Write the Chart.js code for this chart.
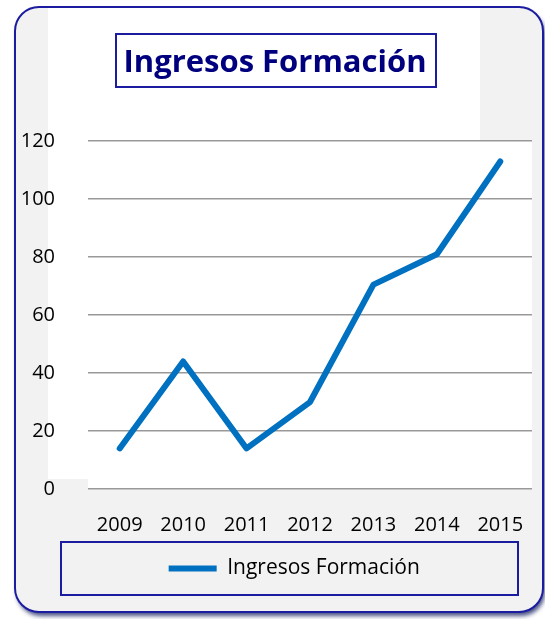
<!DOCTYPE html>
<html>
<head>
<meta charset="utf-8">
<script src="https://cdn.jsdelivr.net/npm/chart.js@4"></script>
<style>
  html, body { margin: 0; padding: 0; background: #ffffff; }
  #wrap { position: relative; width: 545px; height: 619px; }
  canvas { display: block; }
</style>
</head>
<body>
<div id="wrap"><canvas id="c" width="545" height="619"></canvas></div>
<script>
const chartTitle = 'Ingresos Formación';
const seriesName = 'Ingresos Formación';
const years = ['2009', '2010', '2011', '2012', '2013', '2014', '2015'];
const ingresos = [14, 44, 14, 30, 70.5, 81, 113];
const yTicks = [0, 20, 40, 60, 80, 100, 120];

const FONT = '"Open Sans", "Noto Sans", "DejaVu Sans", sans-serif';
const BORDER = '#1c1ca0';

function roundRect(ctx, x, y, w, h, r) {
  ctx.beginPath();
  ctx.moveTo(x + r, y);
  ctx.lineTo(x + w - r, y);
  ctx.arcTo(x + w, y, x + w, y + r, r);
  ctx.lineTo(x + w, y + h - r);
  ctx.arcTo(x + w, y + h, x + w - r, y + h, r);
  ctx.lineTo(x + r, y + h);
  ctx.arcTo(x, y + h, x, y + h - r, r);
  ctx.lineTo(x, y + r);
  ctx.arcTo(x, y, x + r, y, r);
  ctx.closePath();
}

const decor = {
  id: 'decor',
  afterLayout(chart) {
    if (chart.titleBlock) { chart.titleBlock.left = 0; chart.titleBlock.right = 550; }
    if (chart.legend) {
      const h = chart.legend.bottom - chart.legend.top;
      chart.legend.left = 58; chart.legend.right = 530.5;
      chart.legend.top = 548; chart.legend.bottom = 548 + h;
    }
  },
  beforeDraw(chart) {
    const ctx = chart.ctx;
    const a = chart.chartArea;
    ctx.save();
    ctx.shadowColor = 'rgba(30,40,100,0.8)';
    ctx.shadowBlur = 4;
    ctx.shadowOffsetX = 2;
    ctx.shadowOffsetY = 4;
    roundRect(ctx, 15, 7, 528, 605, 24);
    ctx.fillStyle = '#f2f2f2';
    ctx.fill();
    ctx.shadowColor = 'transparent';
    ctx.fillStyle = '#ffffff';
    ctx.beginPath();
    ctx.moveTo(48, 8);
    ctx.lineTo(480, 8);
    ctx.lineTo(480, a.top);
    ctx.lineTo(a.right, a.top);
    ctx.lineTo(a.right, a.bottom);
    ctx.lineTo(a.left, a.bottom);
    ctx.lineTo(a.left, a.bottom - 10);
    ctx.lineTo(48, a.bottom - 10);
    ctx.closePath();
    ctx.fill();
    roundRect(ctx, 15, 7, 528, 605, 24);
    ctx.lineWidth = 2;
    ctx.strokeStyle = BORDER;
    ctx.stroke();
    ctx.restore();
  },
  afterDraw(chart) {
    const ctx = chart.ctx;
    ctx.save();
    ctx.lineWidth = 2;
    ctx.strokeStyle = BORDER;
    ctx.strokeRect(116, 34, 320, 53);
    ctx.strokeRect(61, 542, 457, 53);
    ctx.restore();
  }
};

new Chart(document.getElementById('c'), {
  type: 'line',
  data: {
    labels: years,
    datasets: [{
      label: seriesName,
      data: ingresos,
      borderColor: '#0070c0',
      backgroundColor: '#0070c0',
      borderWidth: 6,
      borderCapStyle: 'round',
      borderJoinStyle: 'round',
      tension: 0,
      pointRadius: 0,
      pointHoverRadius: 0,
      fill: false
    }]
  },
  options: {
    responsive: false,
    animation: false,
    devicePixelRatio: 1,
    layout: { padding: { left: 0, right: 13, top: 0, bottom: 29 } },
    plugins: {
      tooltip: { enabled: false },
      title: {
        display: true,
        text: chartTitle,
        color: '#00007f',
        font: { family: FONT, size: 31, weight: 'bold' },
        padding: { top: 45, bottom: 59 }
      },
      legend: {
        display: true,
        position: 'bottom',
        labels: {
          color: '#000000',
          font: { family: FONT, size: 21 },
          usePointStyle: true,
          pointStyle: 'line',
          pointStyleWidth: 48,
          padding: 10
        }
      }
    },
    scales: {
      x: {
        offset: true,
        grid: { display: false },
        border: { display: false },
        ticks: { color: '#000000', font: { family: FONT, size: 20 }, padding: 16, maxRotation: 0, autoSkip: false },
        afterFit(scale) { scale.height = 60; scale.paddingLeft = 0; scale.paddingRight = 0; }
      },
      y: {
        min: 0,
        max: 120,
        afterBuildTicks(scale) { scale.ticks = yTicks.map(v => ({ value: v })); },
        grid: { color: '#999999', lineWidth: 1.5, drawTicks: false },
        border: { display: false },
        ticks: { color: '#000000', font: { family: FONT, size: 20 }, padding: 33 },
        afterFit(scale) { scale.width = 88; }
      }
    }
  },
  plugins: [decor]
});
</script>
</body>
</html>
